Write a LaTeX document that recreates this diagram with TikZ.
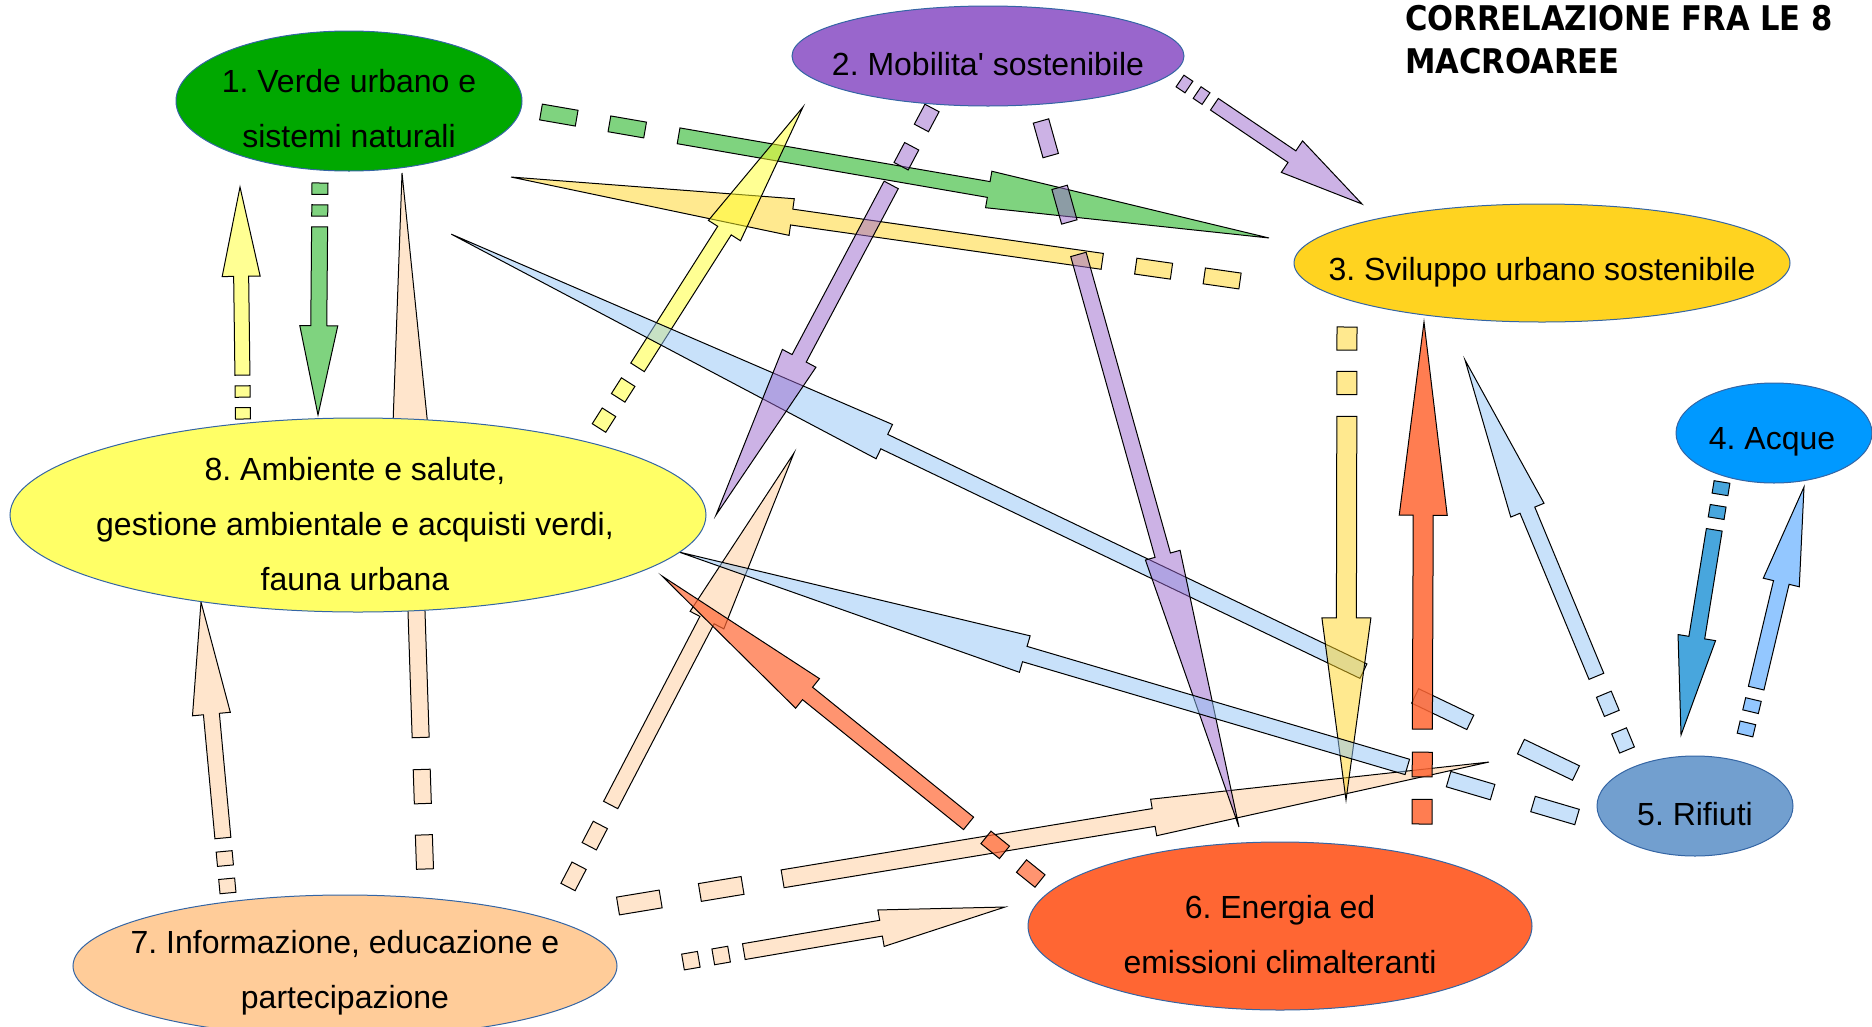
\documentclass[tikz,border=0pt]{standalone}
\usepackage{fontspec}
\setmainfont{Liberation Sans}
\newfontfamily\labelfont{Liberation Sans}
\newfontfamily\titlefont{DejaVu Sans}[FakeStretch=0.9]
\usetikzlibrary{shapes.geometric}
\frenchspacing
\definecolor{c1}{HTML}{00A800}
\definecolor{c2}{HTML}{9966CC}
\definecolor{c3}{HTML}{FFD320}
\definecolor{c4}{HTML}{0099FF}
\definecolor{c5}{HTML}{729FCF}
\definecolor{c6}{HTML}{FF6633}
\definecolor{c7}{HTML}{FFCC99}
\definecolor{c8}{HTML}{FFFF66}
\definecolor{a8}{RGB}{255,255,40}
\definecolor{alb}{RGB}{145,195,245}
\definecolor{a45}{RGB}{40,150,215}
\definecolor{a54}{RGB}{120,185,255}
\definecolor{nborder}{HTML}{3465A4}
\tikzset{
  arrowbox/.style={draw=black,line width=1pt,fill opacity=0.5,line join=miter},
  agreen/.style={fill=c1},
  apurple/.style={fill=c2},
  agold/.style={fill=c3},
  ayellow/.style={fill=a8},
  apeach/.style={fill=c7},
  alblue/.style={fill=alb},
  aorange/.style={fill=c6,fill opacity=0.85},
  aorangeb/.style={fill=c6,fill opacity=0.7},
  ablue/.style={fill=a45,fill opacity=0.85},
  ablueb/.style={fill=a54,fill opacity=0.8},
  macro/.style={ellipse,draw=nborder,line width=1pt,inner sep=0pt},
  lbl/.style={align=center,font=\labelfont\fontsize{32}{55}\selectfont,inner sep=0pt}
}
\newcommand\barrow[5]{%
  \path (#2); \pgfgetlastxy{\bax}{\bay}%
  \path (#3); \pgfgetlastxy{\bbx}{\bby}%
  \pgfmathsetmacro\baang{atan2((\bby)-(\bay),(\bbx)-(\bax))}%
  \pgfmathsetmacro\balen{100*veclen(((\bbx)-(\bax))/100,((\bby)-(\bay))/100)}%
  \pgfmathsetmacro\bsw{#4/2}%
  \pgfmathsetmacro\bhw{#5/2}%
  \pgfmathsetmacro\bda{0.049*\balen}%
  \pgfmathsetmacro\bdb{0.094*\balen}%
  \pgfmathsetmacro\bdc{0.143*\balen}%
  \pgfmathsetmacro\bdd{0.189*\balen}%
  \pgfmathsetmacro\bde{0.615*\balen}%
  \begin{scope}[shift={(#2)},rotate=\baang,x=1pt,y=1pt]
    \filldraw[arrowbox,#1] (0,-\bsw) rectangle (\bda,\bsw);
    \filldraw[arrowbox,#1] (\bdb,-\bsw) rectangle (\bdc,\bsw);
    \filldraw[arrowbox,#1] (\bdd,-\bsw) -- (\bde,-\bsw) -- (\bde,-\bhw) -- (\balen,0) -- (\bde,\bhw) -- (\bde,\bsw) -- (\bdd,\bsw) -- cycle;
  \end{scope}}
\begin{document}
\begin{tikzpicture}[x=1pt,y=-1pt]
\useasboundingbox (0,0) rectangle (1872,1026);
% arrow end points
\coordinate (g13s) at (541,112);  \coordinate (g13e) at (1269,238);
\coordinate (y31s) at (1240,281); \coordinate (y31e) at (511,177);
\coordinate (p23s) at (1180,81);  \coordinate (p23e) at (1362,204);
\coordinate (p26s) at (1041,121); \coordinate (p26e) at (1239,827);
\coordinate (p28s) at (932,108);  \coordinate (p28e) at (716,515);
\coordinate (y82s) at (599,428);  \coordinate (y82e) at (803,107);
\coordinate (b51s) at (1576,773); \coordinate (b51e) at (451,234);
\coordinate (b58s) at (1577,817); \coordinate (b58e) at (679,552);
\coordinate (b53s) at (1627,750); \coordinate (b53e) at (1465,360);
\coordinate (b45s) at (1722,482); \coordinate (b45e) at (1681,735);
\coordinate (b54s) at (1745,735); \coordinate (b54e) at (1804,487);
\coordinate (y36s) at (1347,327); \coordinate (y36e) at (1346,800);
\coordinate (o63s) at (1422,824); \coordinate (o63e) at (1424,322);
\coordinate (y81s) at (243,419);  \coordinate (y81e) at (240,187);
\coordinate (g18s) at (320,183);  \coordinate (g18e) at (318,415);
\coordinate (c71s) at (425,869);  \coordinate (c71e) at (402,173);
\coordinate (c78s) at (228,893);  \coordinate (c78e) at (201,602);
\coordinate (c72s) at (568,887);  \coordinate (c72e) at (794,453);
\coordinate (c75s) at (618,906);  \coordinate (c75e) at (1489,762);
\coordinate (c76s) at (683,962);  \coordinate (c76e) at (1005,907);
\coordinate (o68s) at (1040,881); \coordinate (o68e) at (662,576);
% arrows
\barrow{apeach}{c71s}{c71e}{17}{37}
\barrow{apeach}{c78s}{c78e}{16}{38}
\barrow{apeach}{c72s}{c72e}{16}{38}
\barrow{apeach}{c75s}{c75e}{18}{37}
\barrow{apeach}{c76s}{c76e}{16}{37}
\barrow{ayellow}{y81s}{y81e}{15}{38}
\barrow{agreen}{g18s}{g18e}{16}{38}
\barrow{agold}{y31s}{y31e}{16}{37}
\barrow{agreen}{g13s}{g13e}{16}{37}
\barrow{ayellow}{y82s}{y82e}{16}{38}
\barrow{alblue}{b51s}{b51e}{16}{38}
\barrow{apurple}{p23s}{p23e}{14}{38}
\barrow{apurple}{p28s}{p28e}{16}{38}
\barrow{apurple}{p26s}{p26e}{16}{36}
\barrow{aorange}{o63s}{o63e}{20}{48}
\barrow{agold}{y36s}{y36e}{20}{49}
\barrow{alblue}{b58s}{b58e}{16}{38}
\barrow{alblue}{b53s}{b53e}{16}{36}
\barrow{ablue}{b45s}{b45e}{16}{38}
\barrow{ablueb}{b54s}{b54e}{16}{37}
\barrow{aorangeb}{o68s}{o68e}{16}{38}
% macro areas
\node[macro,fill=c1,minimum width=346,minimum height=140] (n1) at (349,101) {};
\node[macro,fill=c2,minimum width=392,minimum height=100] (n2) at (988,56) {};
\node[macro,fill=c3,minimum width=496,minimum height=118] (n3) at (1542,263) {};
\node[macro,fill=c4,minimum width=196,minimum height=100] (n4) at (1774,433) {};
\node[macro,fill=c5,minimum width=196,minimum height=100] (n5) at (1695,806) {};
\node[macro,fill=c6,minimum width=504,minimum height=168] (n6) at (1280,926) {};
\node[macro,fill=c7,minimum width=544,minimum height=142] (n7) at (345,966) {};
\node[macro,fill=c8,minimum width=696,minimum height=194] (n8) at (358,515) {};
\node[lbl] (t1) at (349,109) {1. Verde urbano e\\sistemi naturali};
\node[lbl] (t2) at (988,64) {2. Mobilita' sostenibile};
\node[lbl] (t3) at (1542,272) {3. Sviluppo urbano sostenibile};
\node[lbl] (t4) at (1772,442) {4. Acque};
\node[lbl] (t5) at (1695,814) {5. Rifiuti};
\node[lbl] (t6) at (1280,935) {6. Energia ed\\emissioni climalteranti};
\node[lbl] (t7) at (345,973) {7. Informazione, educazione e\\partecipazione};
\node[lbl] (t8) at (355,524) {8. Ambiente e salute,\\gestione ambientale e acquisti verdi,\\fauna urbana};
\node[anchor=north west,align=left,inner sep=0pt,font=\titlefont\bfseries\fontsize{34}{43}\selectfont] (title) at (1405,5) {CORRELAZIONE FRA LE 8\\MACROAREE};
\end{tikzpicture}
\end{document}
